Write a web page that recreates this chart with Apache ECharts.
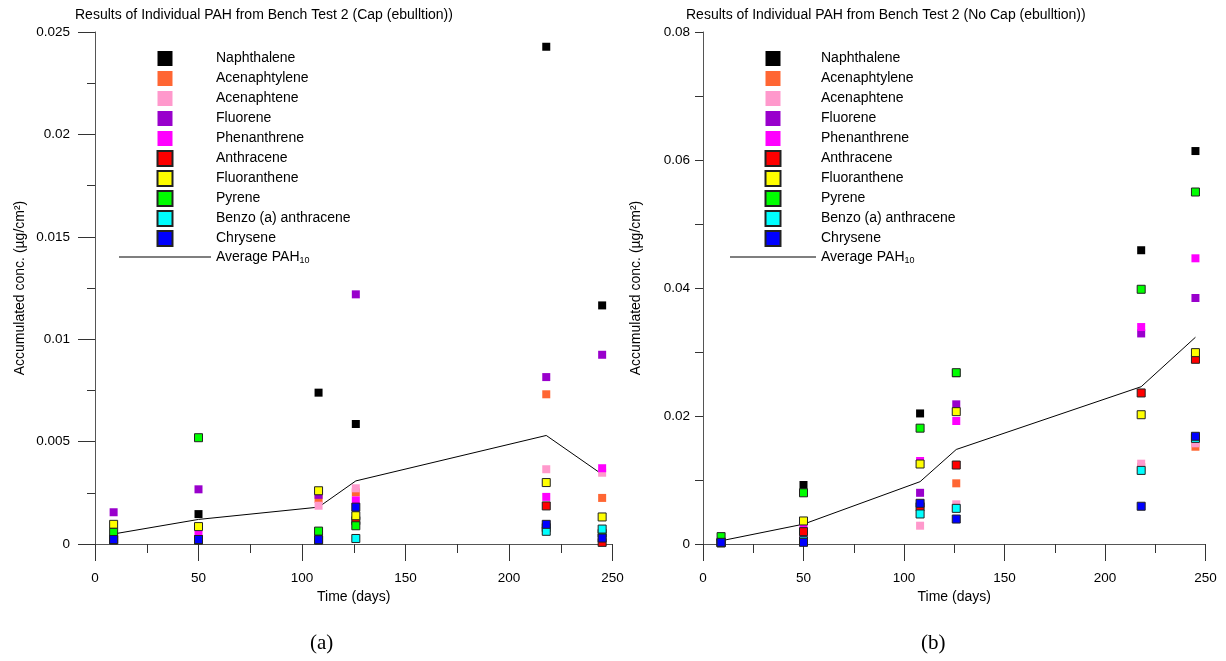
<!DOCTYPE html>
<html>
<head>
<meta charset="utf-8">
<title>PAH Bench Test 2</title>
<script src="https://cdn.jsdelivr.net/npm/echarts@6/dist/echarts.min.js"></script>
<style>
  html, body { margin: 0; padding: 0; background: #fff; }
  #chart { width: 1226px; height: 661px; }
</style>
</head>
<body>
<div id="chart"></div>
<script>
// sampling days
var days = [9, 50, 108, 126, 218, 245];

var compounds = ['Naphthalene', 'Acenaphtylene', 'Acenaphtene', 'Fluorene', 'Phenanthrene',
  'Anthracene', 'Fluoranthene', 'Pyrene', 'Benzo (a) anthracene', 'Chrysene'];
var avgName = 'Average PAH10';

// (a) Cap (ebulltion)
var capNaphthalene = [0.0002, 0.00146, 0.00739, 0.00586, 0.02428, 0.01165];
var capAcenaphtylene = [0.0002, 0.0002, 0.0022, 0.00252, 0.00731, 0.00225];
var capAcenaphtene = [0.0003, 0.0002, 0.00187, 0.00272, 0.00365, 0.00348];
var capFluorene = [0.00155, 0.00267, 0.0024, 0.01219, 0.00815, 0.00924];
var capPhenanthrene = [0.0002, 0.00044, 0.00044, 0.00213, 0.0023, 0.0037];
var capAnthracene = [0.0002, 0.0002, 0.0002, 0.00114, 0.00186, 0.00008];
var capFluoranthene = [0.00096, 0.00085, 0.0026, 0.00138, 0.003, 0.00132];
var capPyrene = [0.00057, 0.00519, 0.00063, 0.00089, 0.0008, 0.00052];
var capBenzoAnthracene = [0.0002, 0.0002, 0.0002, 0.00027, 0.00062, 0.00073];
var capChrysene = [0.00022, 0.00022, 0.00021, 0.0018, 0.00096, 0.00029];
var capAverage = [0.00049, 0.0012, 0.0018, 0.00308, 0.0053, 0.0034];

// (b) No Cap (ebulltion)
var noCapNaphthalene = [0.0005, 0.00922, 0.0204, 0.0267, 0.0459, 0.0614];
var noCapAcenaphtylene = [0.0002, 0.0005, 0.006, 0.00948, 0.012, 0.0152];
var noCapAcenaphtene = [0.0002, 0.0005, 0.00286, 0.0062, 0.01255, 0.01573];
var noCapFluorene = [0.0003, 0.00115, 0.008, 0.02182, 0.0329, 0.03844];
var noCapPhenanthrene = [0.0002, 0.00245, 0.01297, 0.01922, 0.0339, 0.04464];
var noCapAnthracene = [0.0002, 0.00193, 0.00583, 0.01234, 0.0236, 0.02886];
var noCapFluoranthene = [0.0002, 0.0036, 0.0125, 0.02068, 0.0202, 0.0299];
var noCapPyrene = [0.00115, 0.008, 0.0181, 0.02677, 0.0398, 0.055];
var noCapBenzoAnthracene = [0.0002, 0.0005, 0.00469, 0.00557, 0.0115, 0.0165];
var noCapChrysene = [0.00026, 0.00026, 0.00636, 0.0039, 0.0059, 0.01683];
var noCapAverage = [0.0005, 0.0031, 0.00974, 0.01477, 0.02458, 0.0323];

var capSets = [capNaphthalene, capAcenaphtylene, capAcenaphtene, capFluorene, capPhenanthrene,
  capAnthracene, capFluoranthene, capPyrene, capBenzoAnthracene, capChrysene];
var noCapSets = [noCapNaphthalene, noCapAcenaphtylene, noCapAcenaphtene, noCapFluorene, noCapPhenanthrene,
  noCapAnthracene, noCapFluoranthene, noCapPyrene, noCapBenzoAnthracene, noCapChrysene];

var colors = ['#000000', '#ff6633', '#ff99cc', '#9900cc', '#ff00ff',
  '#ff0000', '#ffff00', '#00ff00', '#00ffff', '#0000ff'];
var bordered = [false, false, false, false, false, true, true, true, true, true];

var font = '"Liberation Sans", Arial, Helvetica, sans-serif';
var squareIcon = 'path://M0,0L10,0L10,10L0,10Z';
var lineIcon = 'path://M0,0L100,0L100,1L0,1Z';

function pairs(vals) {
  return days.map(function (d, i) { return [d, vals[i]]; });
}

function buildSeries(sets, avg, idx) {
  var out = sets.map(function (vals, i) {
    return {
      name: compounds[i],
      type: 'scatter',
      xAxisIndex: idx,
      yAxisIndex: idx,
      symbol: 'rect',
      symbolSize: 8,
      itemStyle: {
        color: colors[i],
        opacity: 1,
        borderColor: bordered[i] ? '#222' : colors[i],
        borderWidth: bordered[i] ? 1 : 0
      },
      data: pairs(vals)
    };
  });
  out.push({
    name: avgName,
    type: 'line',
    xAxisIndex: idx,
    yAxisIndex: idx,
    symbol: 'none',
    itemStyle: { color: '#000' },
    lineStyle: { color: '#000', width: 1 },
    z: 1,
    data: pairs(avg)
  });
  return out;
}

// legend is split in two so the bordered squares keep the same row pitch
function buildLegend(left, top, iconW, names, gap) {
  return {
    orient: 'vertical',
    left: left,
    top: top,
    padding: 0,
    itemWidth: iconW,
    itemHeight: 15,
    itemGap: gap,
    selectedMode: false,
    data: names.map(function (n) {
      return { name: n, icon: n === avgName ? lineIcon : squareIcon };
    }),
    formatter: function (name) {
      return name === avgName ? 'Average PAH{s|10}' : name;
    },
    textStyle: {
      fontFamily: font,
      fontSize: 14,
      color: '#000',
      rich: {
        s: { fontSize: 9, fontFamily: font, padding: [7, 0, 0, 0] }
      }
    }
  };
}

function legendsFor(left, iconW) {
  // first block has no full-width line icon, so its box starts at the square
  return [
    buildLegend(left + (iconW - 15) / 2, 51, iconW, compounds.slice(0, 5), 5),
    buildLegend(left, 150, iconW, compounds.slice(5).concat([avgName]), 3)
  ];
}

function xAxis(idx) {
  return {
    type: 'value',
    gridIndex: idx,
    min: 0,
    max: 250,
    interval: 50,
    name: 'Time (days)',
    nameLocation: 'middle',
    nameGap: 43,
    nameTextStyle: { fontFamily: font, fontSize: 14, color: '#000' },
    axisLine: { show: true, lineStyle: { color: '#555', width: 1 } },
    axisTick: { show: true, length: 17, lineStyle: { color: '#333' } },
    minorTick: { show: true, splitNumber: 2, length: 9, lineStyle: { color: '#333' } },
    axisLabel: { fontFamily: font, fontSize: 13.5, color: '#000', margin: 27 },
    splitLine: { show: false }
  };
}

function yAxis(idx, max, interval, tickLen, labelMargin, nameGap) {
  return {
    type: 'value',
    gridIndex: idx,
    min: 0,
    max: max,
    interval: interval,
    name: 'Accumulated conc. (µg/cm²)',
    nameLocation: 'middle',
    nameGap: nameGap,
    nameTextStyle: { fontFamily: font, fontSize: 14, color: '#000' },
    axisLine: { show: true, lineStyle: { color: '#555', width: 1 } },
    axisTick: { show: true, length: tickLen, lineStyle: { color: '#333' } },
    minorTick: { show: true, splitNumber: 2, length: 8, lineStyle: { color: '#333' } },
    axisLabel: { fontFamily: font, fontSize: 13.5, color: '#000', margin: labelMargin },
    splitLine: { show: false }
  };
}

var chart = echarts.init(document.getElementById('chart'));
chart.setOption({
  animation: false,
  backgroundColor: '#fff',
  title: [
    {
      text: 'Results of Individual PAH from Bench Test 2 (Cap (ebulltion))',
      left: 75, top: 8, padding: 0,
      textStyle: { fontFamily: font, fontSize: 14, fontWeight: 'normal', color: '#000' }
    },
    {
      text: 'Results of Individual PAH from Bench Test 2 (No Cap (ebulltion))',
      left: 686, top: 8, padding: 0,
      textStyle: { fontFamily: font, fontSize: 14, fontWeight: 'normal', color: '#000' }
    }
  ],
  legend: legendsFor(119, 92).concat(legendsFor(730, 86)),
  grid: [
    { left: 95, top: 32, width: 517.5, height: 512 },
    { left: 703, top: 32, width: 502.5, height: 512 }
  ],
  xAxis: [xAxis(0), xAxis(1)],
  yAxis: [
    yAxis(0, 0.025, 0.005, 17, 25, 68),
    yAxis(1, 0.08, 0.02, 8, 13, 60)
  ],
  graphic: [
    { type: 'text', left: 310, top: 633, style: { text: '(a)', fontFamily: '"Liberation Serif", "Times New Roman", serif', fontSize: 21, fill: '#000' } },
    { type: 'text', left: 921, top: 633, style: { text: '(b)', fontFamily: '"Liberation Serif", "Times New Roman", serif', fontSize: 21, fill: '#000' } }
  ],
  series: buildSeries(capSets, capAverage, 0).concat(buildSeries(noCapSets, noCapAverage, 1))
});
</script>
</body>
</html>
